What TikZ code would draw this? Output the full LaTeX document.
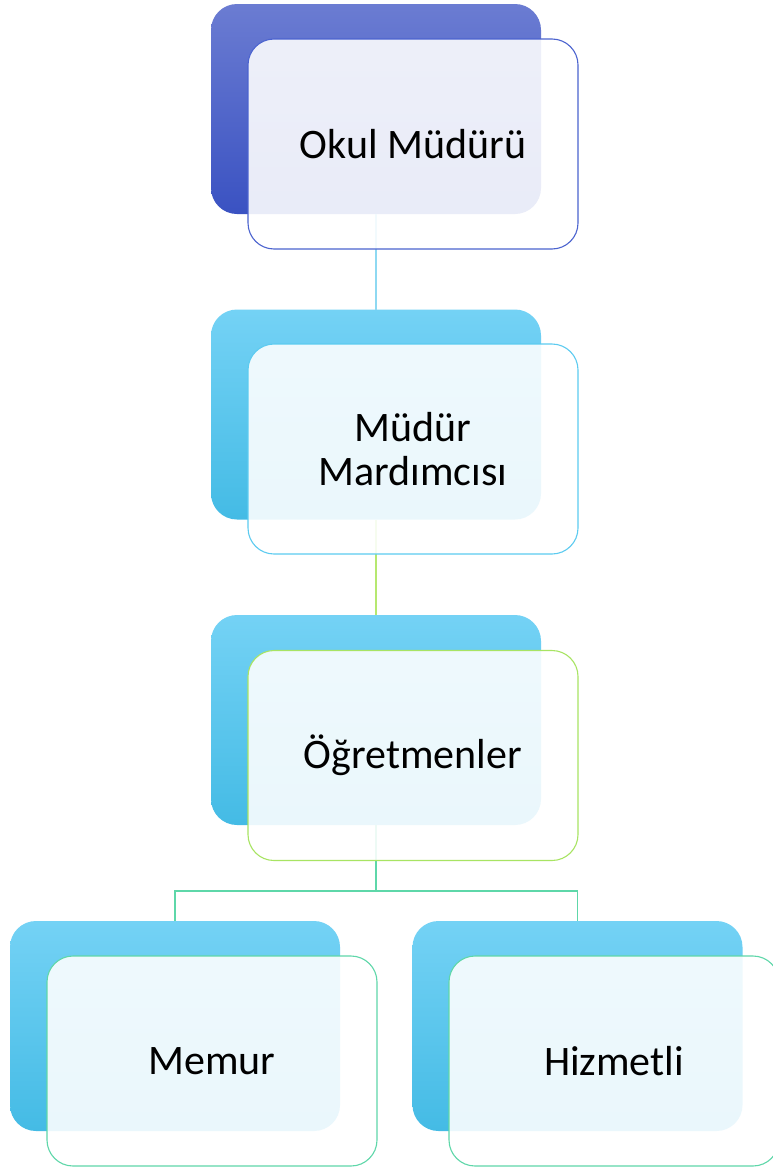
\documentclass[tikz,border=0pt]{standalone}
\usepackage{fontspec}
\setmainfont{Carlito}
\definecolor{navyT}{HTML}{6B7CD2}
\definecolor{navyB}{HTML}{3A52C2}
\definecolor{navyM}{HTML}{5065CC}
\definecolor{skyT}{HTML}{74D2F5}
\definecolor{skyM}{HTML}{55CEF8}
\definecolor{skyB}{HTML}{44BBE5}
\definecolor{edgeA}{HTML}{4B63CF}
\definecolor{edgeB}{HTML}{5CCBF0}
\definecolor{edgeC}{HTML}{A8E463}
\definecolor{edgeD}{HTML}{5ED7A9}
\definecolor{lineA}{HTML}{8ED9F2}
\definecolor{lineB}{HTML}{B6E870}
\definecolor{lineC}{HTML}{5ED7A9}
\tikzset{
  boxbase/.style={rectangle, rounded corners=26pt, minimum width=330pt, minimum height=210pt, inner sep=0pt, outer sep=0pt},
  backnavy/.style={boxbase, shade, top color=navyT, middle color=navyM, bottom color=navyB},
  backsky/.style={boxbase, shade, top color=skyT, middle color=skyM, bottom color=skyB},
  frontbox/.style={boxbase, draw=#1, line width=1.1pt, fill=white, fill opacity=0.89, text opacity=1, align=center, font=\fontsize{42}{44}\selectfont},
  link/.style={line width=1.1pt, draw=#1}
}
\begin{document}
\begin{tikzpicture}[x=1pt,y=1pt]
\clip (0,0) rectangle (773,-1167);
\fill[white] (0,0) rectangle (773,-1167);
% back boxes
\node[backnavy] (b1) at (376,-109) {};
\node[backsky] (b2) at (376,-414.5) {};
\node[backsky] (b3) at (376,-720) {};
\node[backsky] (b4) at (175,-1026) {};
\node[backsky] (b5) at (577.5,-1026) {};
\coordinate (j) at (376,-891);
% connectors
\draw[link=lineA] (b1.south) -- (b2.north);
\draw[link=lineB] (b2.south) -- (b3.north);
\draw[link=lineC] (b3.south) -- (j);
\draw[link=lineC] (j) -| (b4.north);
\draw[link=lineC] (j) -| (b5.north);
% front boxes
\node[frontbox=edgeA] (f1) at (413,-144) {Okul Müdürü};
\node[frontbox=edgeB] (f2) at (413,-449) {Müdür\\Mardımcısı};
\node[frontbox=edgeC] (f3) at (413,-755.5) {Öğretmenler};
\node[frontbox=edgeD] (f4) at (212,-1061) {Memur};
\node[frontbox=edgeD] (f5) at (614,-1061) {Hizmetli};
\end{tikzpicture}
\end{document}
